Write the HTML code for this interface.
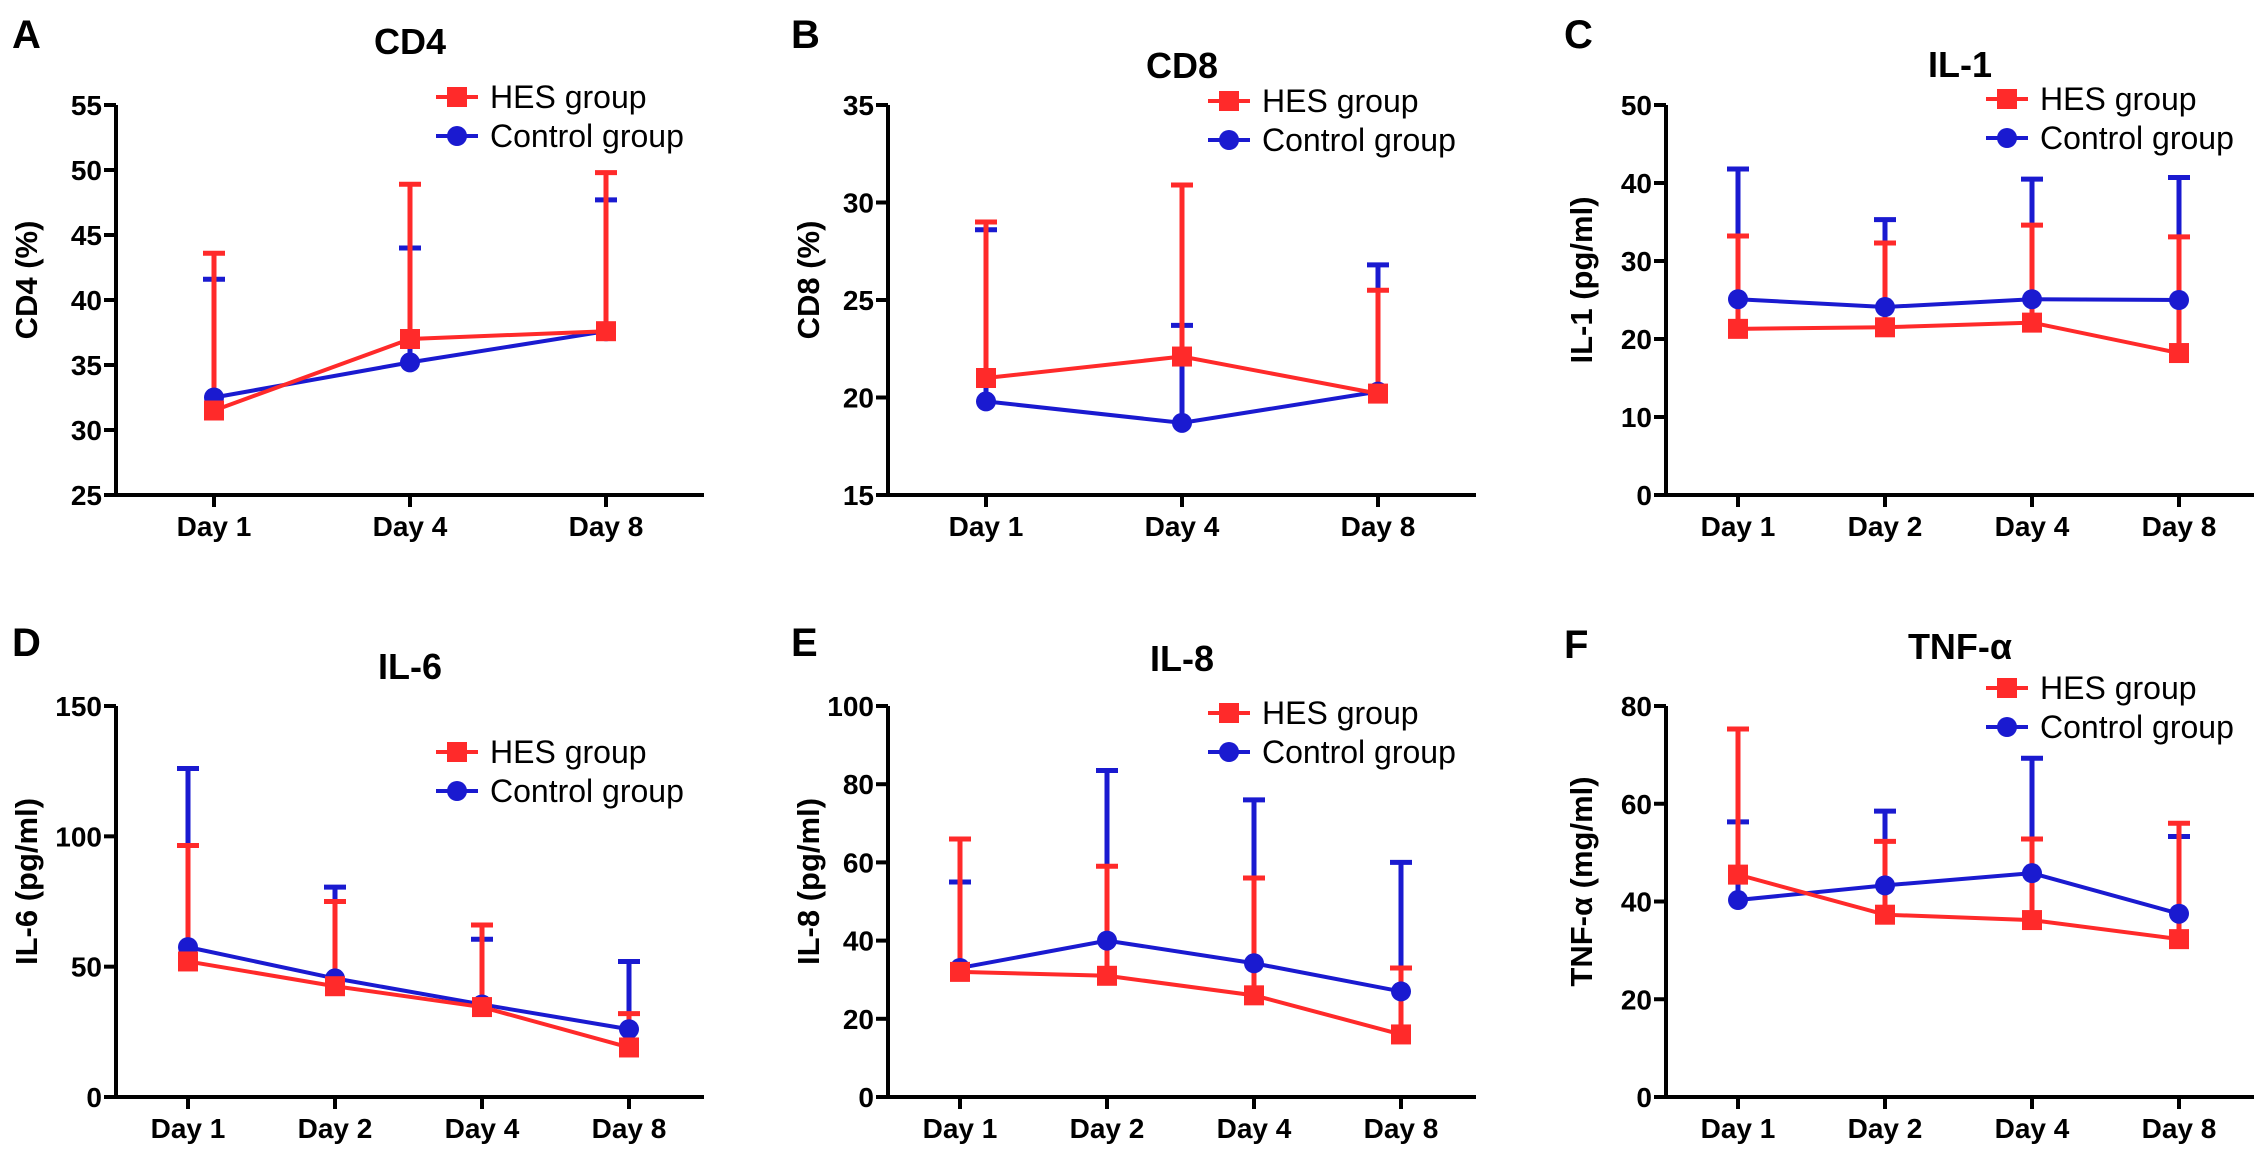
<!DOCTYPE html>
<html><head><meta charset="utf-8">
<style>
html,body{margin:0;padding:0;background:#fff;}
svg{display:block;font-family:"Liberation Sans",Arial,sans-serif;}
</style></head>
<body>
<svg id="fig" width="2268" height="1155" viewBox="0 0 2268 1155" xmlns="http://www.w3.org/2000/svg"></svg>
<script>
// ---- data ----
const catsA = ["Day 1","Day 4","Day 8"];
const cats4 = ["Day 1","Day 2","Day 4","Day 8"];
const cd4Hes = [31.5, 37.0, 37.6];
const cd4HesTop = [43.6, 48.9, 49.8];
const cd4Ctl = [32.5, 35.2, 37.6];
const cd4CtlTop = [41.6, 44.0, 47.7];
const cd4Ticks = [25,30,35,40,45,50,55];
const cd8Hes = [21.0, 22.1, 20.2];
const cd8HesTop = [29.0, 30.9, 25.5];
const cd8Ctl = [19.8, 18.7, 20.3];
const cd8CtlTop = [28.6, 23.7, 26.8];
const cd8Ticks = [15,20,25,30,35];
const il1Hes = [21.3, 21.5, 22.1, 18.2];
const il1HesTop = [33.2, 32.3, 34.6, 33.1];
const il1Ctl = [25.1, 24.1, 25.1, 25.0];
const il1CtlTop = [41.8, 35.3, 40.5, 40.7];
const il1Ticks = [0,10,20,30,40,50];
const il6Hes = [52, 42.5, 34.5, 19];
const il6HesTop = [96.5, 75, 66, 32];
const il6Ctl = [57.5, 45.5, 35.5, 26];
const il6CtlTop = [126, 80.5, 60.5, 52];
const il6Ticks = [0,50,100,150];
const il8Hes = [32, 31, 26, 16];
const il8HesTop = [66, 59, 56, 33];
const il8Ctl = [33, 40, 34.2, 27];
const il8CtlTop = [55, 83.5, 76, 60];
const il8Ticks = [0,20,40,60,80,100];
const tnfHes = [45.5, 37.3, 36.2, 32.3];
const tnfHesTop = [75.3, 52.3, 52.8, 56];
const tnfCtl = [40.3, 43.3, 45.8, 37.5];
const tnfCtlTop = [56.3, 58.5, 69.3, 53.3];
const tnfTicks = [0,20,40,60,80];

const NS="http://www.w3.org/2000/svg";
const svg=document.getElementById('fig');
const RED="#ff2a2a", BLUE="#1a1ad0";
function mk(tag,attrs,parent){const e=document.createElementNS(NS,tag);for(const k in attrs)e.setAttribute(k,attrs[k]);(parent||svg).appendChild(e);return e;}

function panel(o){
  const g=mk('g',{});
  
  
  const x0=o.x0,x1=o.x0+588,yT=o.yT,yB=o.yB;
  const ymin=o.ticks[0],ymax=o.ticks[o.ticks.length-1];
  const Y=v=>yB-(v-ymin)/(ymax-ymin)*(yB-yT);
  const n=o.cats.length;
  const step=n===3?196:147, first=n===3?98:72;
  const X=i=>x0+first+i*step;
  const L=mk('text',{x:o.lx,y:o.ly,'font-size':40,'font-weight':'bold',fill:'#000'},g);
  L.textContent=o.letter;
  
  
  const T=mk('text',{x:(x0+x1)/2,y:yT-47+o.tdy,'font-size':36,'font-weight':'bold','text-anchor':'middle'},g);
  T.textContent=o.title;
  
  
  const yc=(yT+yB)/2-20;
  const YL=mk('text',{x:0,y:0,'font-size':31,'font-weight':'bold','text-anchor':'middle',transform:`translate(${o.ylx+11},${yc}) rotate(-90)`},g);
  YL.textContent=o.ylabel;
  
  
  const ax=mk('path',{d:`M${x0},${yT} L${x0},${yB} L${x1},${yB}`,stroke:'#000','stroke-width':4,fill:'none'},g);
  
  
  o.ticks.forEach(t=>{
    const y=Y(t);
    const tk=mk('line',{x1:x0-12,x2:x0,y1:y,y2:y,stroke:'#000','stroke-width':4},g);
    
    
    const tl=mk('text',{x:x0-14,y:y+10,'font-size':28,'font-weight':'bold','text-anchor':'end'},g);
    tl.textContent=t;
    
    
  });
  o.cats.forEach((c,i)=>{
    const tk=mk('line',{x1:X(i),x2:X(i),y1:yB,y2:yB+12,stroke:'#000','stroke-width':4},g);
    
    
    const tl=mk('text',{x:X(i),y:yB+41,'font-size':28,'font-weight':'bold','text-anchor':'middle'},g);
    tl.textContent=c;
    
    
  });
  function errs(vals,tops,col,name){
    vals.forEach((v,i)=>{
      const e=mk('path',{d:`M${X(i)},${Y(v)} L${X(i)},${Y(tops[i])} M${X(i)-11},${Y(tops[i])} L${X(i)+11},${Y(tops[i])}`,stroke:col,'stroke-width':5,fill:'none'},g);
      
      
    });
  }
  function series(vals,col,name,sq){
    const p=mk('polyline',{points:vals.map((v,i)=>X(i)+','+Y(v)).join(' '),stroke:col,'stroke-width':4,fill:'none'},g);
    
    
    vals.forEach((v,i)=>{
      let m;
      if(sq) m=mk('rect',{x:X(i)-10,y:Y(v)-10,width:20,height:20,fill:col},g);
      else m=mk('circle',{cx:X(i),cy:Y(v),r:10,fill:col},g);
      
      
    });
  }
  errs(o.ctl,o.ctlTop,BLUE,'control');
  errs(o.hes,o.hesTop,RED,'hes');
  series(o.ctl,BLUE,'control',false);
  series(o.hes,RED,'hes',true);
  const lg=mk('g',{},g);
  
  
  [[RED,'HES group',true,o.legY],[BLUE,'Control group',false,o.legY+39]].forEach(([col,txt,sq,y])=>{
    const lx=x0+341;
    const ln=mk('line',{x1:lx-21,x2:lx+21,y1:y,y2:y,stroke:col,'stroke-width':4},lg);
    
    
    let m= sq? mk('rect',{x:lx-10,y:y-10,width:20,height:20,fill:col},lg) : mk('circle',{cx:lx,cy:y,r:10,fill:col},lg);
    
    
    const t=mk('text',{x:x0+374,y:y+11,'font-size':32},lg);
    t.textContent=txt;
    
    
  });
}

panel({id:'cd4',letter:'A',lx:12,ly:48,title:'CD4',tdy:-4,ylabel:'CD4 (%)',ylx:26,x0:116,yT:105,yB:495,cats:catsA,ticks:cd4Ticks,hes:cd4Hes,hesTop:cd4HesTop,ctl:cd4Ctl,ctlTop:cd4CtlTop,legY:97});
panel({id:'cd8',letter:'B',lx:791,ly:48,title:'CD8',tdy:20,ylabel:'CD8 (%)',ylx:808,x0:888,yT:105,yB:495,cats:catsA,ticks:cd8Ticks,hes:cd8Hes,hesTop:cd8HesTop,ctl:cd8Ctl,ctlTop:cd8CtlTop,legY:101});
panel({id:'il1',letter:'C',lx:1564,ly:48,title:'IL-1',tdy:19,ylabel:'IL-1 (pg/ml)',ylx:1581,x0:1666,yT:105,yB:495,cats:cats4,ticks:il1Ticks,hes:il1Hes,hesTop:il1HesTop,ctl:il1Ctl,ctlTop:il1CtlTop,legY:99});
panel({id:'il6',letter:'D',lx:12,ly:656,title:'IL-6',tdy:20,ylabel:'IL-6 (pg/ml)',ylx:26,x0:116,yT:706,yB:1097,cats:cats4,ticks:il6Ticks,hes:il6Hes,hesTop:il6HesTop,ctl:il6Ctl,ctlTop:il6CtlTop,legY:752});
panel({id:'il8',letter:'E',lx:791,ly:656,title:'IL-8',tdy:12,ylabel:'IL-8 (pg/ml)',ylx:808,x0:888,yT:706,yB:1097,cats:cats4,ticks:il8Ticks,hes:il8Hes,hesTop:il8HesTop,ctl:il8Ctl,ctlTop:il8CtlTop,legY:713});
panel({id:'tnf',letter:'F',lx:1564,ly:658,title:'TNF-α',tdy:0,ylabel:'TNF-α (mg/ml)',ylx:1581,x0:1666,yT:706,yB:1097,cats:cats4,ticks:tnfTicks,hes:tnfHes,hesTop:tnfHesTop,ctl:tnfCtl,ctlTop:tnfCtlTop,legY:688});
</script>
</body></html>
